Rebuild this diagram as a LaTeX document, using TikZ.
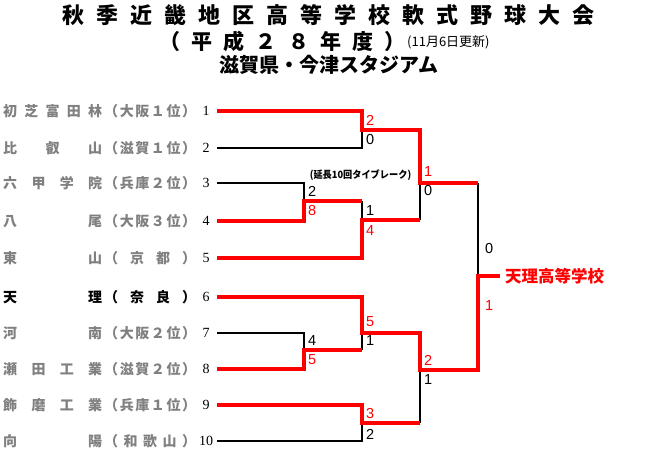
\documentclass[tikz,border=0pt]{standalone}
\usepackage{graphicx}
\usepackage{fontspec}
\newfontfamily\jp{Noto Sans CJK JP}
\newfontfamily\numserif{Liberation Serif}
\newfontfamily\numsans{Liberation Sans}
\definecolor{bred}{RGB}{255,0,0}
\definecolor{tgray}{RGB}{128,128,128}
\tikzset{
  redline/.style={draw=bred, line width=4pt, line join=miter},
  blkline/.style={draw=black, line width=1.3pt},
  team/.style={anchor=west, inner sep=0pt, font=\jp\bfseries\fontsize{14}{14}\selectfont, text=tgray},
  seed/.style={inner sep=0pt, font=\numserif\fontsize{14}{14}\selectfont},
  score/.style={anchor=west, inner sep=0pt, font=\numsans\fontsize{14.5}{14.5}\selectfont},
  rscore/.style={score, text=bred},
  titlea/.style={inner sep=0pt, font=\jp\bfseries\fontsize{22}{22}\selectfont},
  titleb/.style={inner sep=0pt, font=\jp\bfseries\fontsize{21}{21}\selectfont},
}
\newcommand\nmf[1]{\makebox[99pt][s]{#1}\hspace{2pt}}
\newcommand\prf[1]{\makebox[92pt][s]{#1}}
\begin{document}
\begin{tikzpicture}[x=1pt,y=-1pt]
\fill[white] (0,0) rectangle (656,459);
\useasboundingbox (0,0) rectangle (656,459);

% titles
\node[titlea] (ta) at (328.5,15) {\makebox[533pt][s]{秋\hfill 季\hfill 近\hfill 畿\hfill 地\hfill 区\hfill 高\hfill 等\hfill 学\hfill 校\hfill 軟\hfill 式\hfill 野\hfill 球\hfill 大\hfill 会}};
\node[titleb] (tb) at (282.5,41) {\makebox[246pt][s]{（\hfill 平\hfill 成\hfill ２\hfill ８\hfill 年\hfill 度\hfill ）}};
\node[inner sep=0pt, anchor=west, font=\jp\fontsize{13}{13}\selectfont] (upd) at (407,42) {(11月6日更新)};
\node[inner sep=0pt, font=\jp\bfseries\fontsize{20}{20}\selectfont] (tc) at (329,65) {滋賀県・今津スタジアム};

% team labels
\node[team] (l1) at (3,111) {\nmf{初\hfill 芝\hfill 富\hfill 田\hfill 林}\prf{（\hfill 大\hfill 阪\hfill １\hfill 位\hfill ）}};
\node[team] (l2) at (3,148) {\nmf{比\hfill 叡\hfill 山}\prf{（\hfill 滋\hfill 賀\hfill １\hfill 位\hfill ）}};
\node[team] (l3) at (3,183) {\nmf{六\hfill 甲\hfill 学\hfill 院}\prf{（\hfill 兵\hfill 庫\hfill ２\hfill 位\hfill ）}};
\node[team] (l4) at (3,221) {\nmf{八\hfill 尾}\prf{（\hfill 大\hfill 阪\hfill ３\hfill 位\hfill ）}};
\node[team] (l5) at (3,258) {\nmf{東\hfill 山}\prf{（\hfill 京\hfill 都\hfill ）}};
\node[team, text=black] (l6) at (3,297) {\nmf{天\hfill 理}\prf{（\hfill 奈\hfill 良\hfill ）}};
\node[team] (l7) at (3,333) {\nmf{河\hfill 南}\prf{（\hfill 大\hfill 阪\hfill ２\hfill 位\hfill ）}};
\node[team] (l8) at (3,369) {\nmf{瀬\hfill 田\hfill 工\hfill 業}\prf{（\hfill 滋\hfill 賀\hfill ２\hfill 位\hfill ）}};
\node[team] (l9) at (3,405) {\nmf{飾\hfill 磨\hfill 工\hfill 業}\prf{（\hfill 兵\hfill 庫\hfill １\hfill 位\hfill ）}};
\node[team] (l10) at (3,441) {\nmf{向\hfill 陽}\prf{（\hfill 和\hfill 歌\hfill 山\hfill ）}};

% seeds
\foreach \i/\yy in {1/111,2/148,3/183,4/221,5/258,6/297,7/333,8/369,9/405,10/441}{
  \node[seed] (n\i) at (206,\yy) {\i};
  \coordinate (s\i) at (217,\yy);
}

% joins
\coordinate (j12) at (362,130);
\coordinate (j34) at (304,201);
\coordinate (j34r) at (362,201);
\coordinate (j345) at (362,220);
\coordinate (j345r) at (420,220);
\coordinate (q1) at (420,183);
\coordinate (f1) at (478,183);
\coordinate (j78) at (304,350);
\coordinate (j78r) at (362,350);
\coordinate (j67) at (362,333);
\coordinate (q2) at (420,370);
\coordinate (j910) at (362,423);
\coordinate (j910r) at (420,423);
\coordinate (fin) at (478,276);
\coordinate (win) at (500,276);

% black lines
\draw[blkline] (s2) -| (j12);
\draw[blkline] (s3) -| (j34);
\draw[blkline] (j34r) -- (j345);
\draw[blkline] (j345r) -- (q1);
\draw[blkline] (f1) -- (fin);
\draw[blkline] (s7) -| (j78);
\draw[blkline] (j78r) -- (j67);
\draw[blkline] (s10) -| (j910);
\draw[blkline] (j910r) -- (q2);

% red lines
\draw[redline] (s1) -| (j12) -| (q1) -- (f1);
\draw[redline] (s4) -| (j34) -- (j34r);
\draw[redline] (s5) -| (j345) -- (j345r);
\draw[redline] (s6) -| (j67) -| (q2) -| (fin) -- (win);
\draw[redline] (s8) -| (j78) -- (j78r);
\draw[redline] (s9) -| (j910) -- (j910r);

% scores
\node[rscore] (sc1) at (366,120) {2};
\node[score] (sc2) at (366,140) {0};
\node[score] (sc3) at (308,191) {2};
\node[rscore] (sc4) at (308,211) {8};
\node[score] (sc5) at (366,211) {1};
\node[rscore] (sc6) at (366,231) {4};
\node[rscore] (sc7) at (424,172) {1};
\node[score] (sc8) at (424,191) {0};
\node[rscore] (sc9) at (366,322) {5};
\node[score] (sc10) at (366,341) {1};
\node[score] (sc11) at (308,341) {4};
\node[rscore] (sc12) at (308,360) {5};
\node[rscore] (sc13) at (424,360) {2};
\node[score] (sc14) at (424,380) {1};
\node[rscore] (sc15) at (366,413) {3};
\node[score] (sc16) at (366,434) {2};
\node[score] (sc17) at (485,249) {0};
\node[rscore] (sc18) at (485,306) {1};

% note and winner
\node[inner sep=0pt, font=\jp\bfseries\fontsize{10}{10}\selectfont] (note) at (360.5,175) {\scalebox{0.92}[1]{(延長10回タイブレーク)}};
\node[inner sep=0pt, anchor=west, text=bred, font=\jp\bfseries\fontsize{16.5}{16.5}\selectfont] (winner) at (505,276) {天理高等学校};
\end{tikzpicture}
\end{document}
